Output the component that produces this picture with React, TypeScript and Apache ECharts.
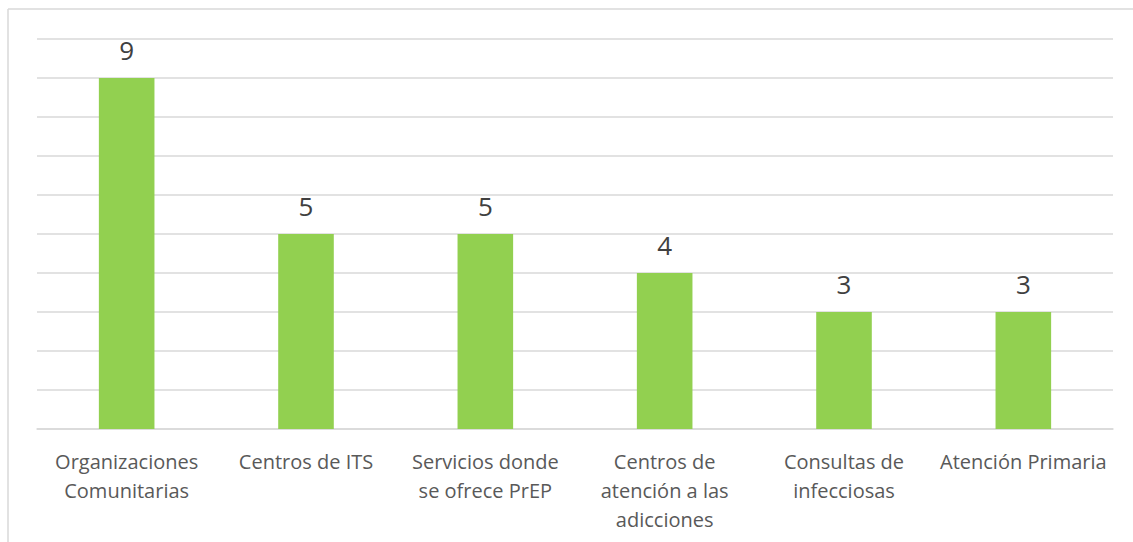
import React, { useEffect, useRef } from "react";
import * as echarts from "echarts";

const categories = [
  "Organizaciones\nComunitarias",
  "Centros de ITS",
  "Servicios donde\nse ofrece PrEP",
  "Centros de\natención a las\nadicciones",
  "Consultas de\ninfecciosas",
  "Atención Primaria",
];
const values = [9, 5, 5, 4, 3, 3];

export default function App() {
  const ref = useRef<HTMLDivElement>(null);
  useEffect(() => {
    document.body.style.margin = "0";
    const chart = echarts.init(ref.current!, null, { renderer: "svg" });
    chart.setOption({
      animation: false,
      backgroundColor: "#ffffff",
      grid: { left: 37, right: 20, top: 39, bottom: 113, containLabel: false },
      xAxis: {
        type: "category",
        data: categories,
        axisTick: { show: false },
        axisLine: { show: true, lineStyle: { color: "#d9d9d9", width: 1.5 } },
        axisLabel: {
          interval: 0,
          color: "#595959",
          fontFamily: "Open Sans",
          fontSize: 20,
          lineHeight: 29,
          margin: 18,
        },
      },
      yAxis: {
        type: "value",
        min: 0,
        max: 10,
        interval: 1,
        axisLabel: { show: false },
        axisLine: { show: false },
        axisTick: { show: false },
        splitLine: { lineStyle: { color: "#d9d9d9", width: 1.5 } },
      },
      series: [
        {
          type: "bar",
          data: values,
          barWidth: "31%",
          itemStyle: { color: "#92d050" },
          label: {
            show: true,
            position: "top",
            distance: 13,
            color: "#404040",
            fontFamily: "Open Sans",
            fontSize: 26,
            lineHeight: 30,
          },
        },
      ],
      graphic: [
        {
          type: "line",
          shape: { x1: 8, y1: 9, x2: 1133, y2: 9 },
          style: { stroke: "#d9d9d9", lineWidth: 1.5 },
        },
        {
          type: "line",
          shape: { x1: 8, y1: 9, x2: 8, y2: 542 },
          style: { stroke: "#d9d9d9", lineWidth: 1.5 },
        },
      ],
    });
    return () => chart.dispose();
  }, []);
  return <div ref={ref} style={{ width: 1133, height: 542 }} />;
}
